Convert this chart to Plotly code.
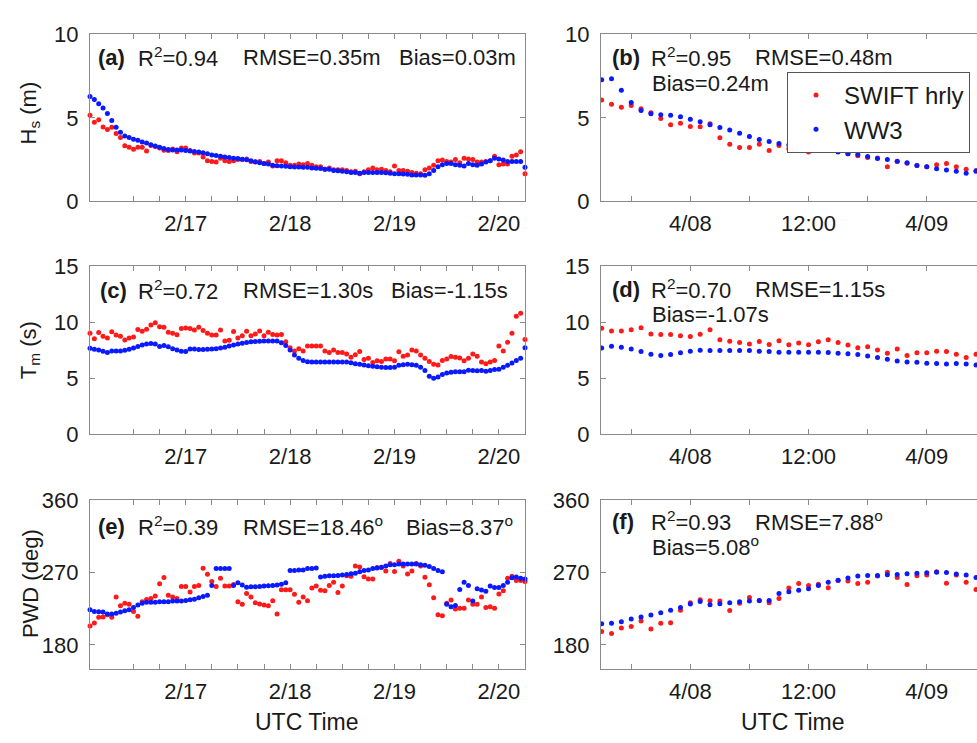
import pandas as pd
import plotly.graph_objects as go

# ---------------- data ----------------
# left column: hourly, 2/16 02:00 -> 2/20 06:00
t_left = pd.date_range("2019-02-16 02:00", periods=101, freq="h")
# right column: hourly, 4/07 15:00 -> 4/09 05:00
t_right = pd.date_range("2019-04-07 15:00", periods=39, freq="h")

hs_swift_left = [5.16, 4.74, 4.88, 4.45, 4.30, 4.43, 4.06, 3.82, 3.33, 3.24,
                 3.12, 3.24, 3.24, 3.01, 3.35, 3.28, 3.20, 3.06, 3.04, 3.14,
                 2.97, 3.20, 3.20, 3.04, 2.89, 2.89, 2.66, 2.43, 2.39, 2.35,
                 2.58, 2.43, 2.39, 2.43, 2.51, 2.51, 2.54, 2.39, 2.35, 2.39,
                 2.27, 2.35, 2.12, 2.43, 2.43, 2.31, 2.16, 2.16, 2.24, 2.20,
                 2.27,
                 2.16, 2.08, 2.08, 1.93, 2.00, 1.89, 1.89, 1.89, 1.85, 1.77,
                 1.81, 1.66, 1.77, 1.89, 2.00, 1.89, 1.93, 1.85, 1.77, 2.12,
                 1.85, 1.85, 1.81, 1.73, 1.69, 1.66, 1.89, 2.00, 2.16, 2.43,
                 2.47, 2.39, 2.35, 2.51, 2.31, 2.58, 2.54, 2.51, 2.35, 2.35,
                 2.39, 2.43, 2.70, 2.20, 2.24, 2.24, 2.70, 2.77, 2.97, 1.66]
hs_ww3_left = [6.28, 6.09, 5.84, 5.59, 5.26, 4.84, 4.43, 4.14, 3.91, 3.82,
               3.72, 3.66, 3.56, 3.49, 3.39, 3.31, 3.24, 3.16, 3.10, 3.08,
               3.08, 3.08, 3.04, 3.01, 2.99, 2.95, 2.91, 2.85, 2.77, 2.74,
               2.70, 2.66, 2.62, 2.58, 2.56, 2.52, 2.49, 2.43, 2.37, 2.31,
               2.27, 2.24, 2.16, 2.14, 2.12, 2.11, 2.08, 2.06, 2.06, 2.04,
               2.04,
               2.00, 1.99, 1.97, 1.93, 1.93, 1.85, 1.83, 1.81, 1.77, 1.73,
               1.73, 1.69, 1.73, 1.73, 1.73, 1.73, 1.73, 1.71, 1.69, 1.66,
               1.66, 1.64, 1.62, 1.58, 1.58, 1.58, 1.56, 1.66, 1.85, 2.08,
               2.20, 2.27, 2.27, 2.20, 2.16, 2.12, 2.27, 2.20, 2.16, 2.24,
               2.35, 2.43, 2.58, 2.54, 2.47, 2.39, 2.39, 2.39, 2.39, 2.04]

tm_swift_left = [9.02, 8.53, 9.08, 8.74, 8.59, 9.14, 8.85, 8.74, 8.42, 8.59,
                 8.68, 9.34, 9.20, 9.37, 9.74, 9.94, 9.60, 9.54, 9.11, 9.02,
                 8.88, 9.43, 9.48, 9.43, 9.31, 9.54, 9.25, 9.02, 8.85, 8.85,
                 9.31, 8.33, 8.39, 9.17, 8.59, 8.79, 9.20, 8.79, 8.94, 9.22,
                 8.79, 9.11, 8.91, 8.85, 8.91, 8.25, 7.73, 7.44, 7.64, 7.44,
                 7.87,
                 7.87, 7.87, 7.87, 7.44, 7.30, 7.53, 7.30, 7.30, 7.16, 6.87,
                 7.10, 7.39, 6.67, 6.78, 6.41, 6.55, 6.49, 6.72, 6.72, 6.55,
                 7.36, 6.96, 7.07, 7.53, 7.44, 7.07, 6.78, 6.49, 6.24, 6.18,
                 6.58, 6.72, 6.93, 6.87, 6.81, 6.55, 6.78, 7.16, 6.96, 6.44,
                 6.29, 6.44, 6.58, 7.87, 7.44, 8.22, 9.02, 10.52, 10.80, 8.45]
tm_ww3_left = [7.67, 7.59, 7.53, 7.41, 7.30, 7.44, 7.44, 7.44, 7.50, 7.59,
               7.70, 7.84, 7.96, 8.05, 8.10, 8.05, 7.84, 7.93, 7.81, 7.64,
               7.53, 7.41, 7.38, 7.61, 7.61, 7.56, 7.56, 7.59, 7.61, 7.64,
               7.70, 7.76, 7.87, 7.96, 8.05, 8.13, 8.19, 8.25, 8.28, 8.30,
               8.33, 8.33, 8.33, 8.33, 8.16, 7.93, 7.53, 7.07, 6.78, 6.58,
               6.47,
               6.44, 6.44, 6.44, 6.44, 6.44, 6.44, 6.44, 6.44, 6.44, 6.38,
               6.29, 6.24, 6.18, 6.12, 6.06, 6.03, 5.98, 5.95, 5.95, 5.98,
               6.15, 6.21, 6.24, 6.21, 6.15, 5.98, 5.69, 5.17, 5.00, 5.11,
               5.34, 5.46, 5.54, 5.57, 5.57, 5.57, 5.72, 5.69, 5.66, 5.69,
               5.63, 5.69, 5.78, 5.80, 5.98, 6.15, 6.35, 6.58, 6.78, 7.73]

pwd_swift_left = [203.4, 207.4, 214.3, 214.7, 217.5, 214.3, 239.7, 228.8, 231.7, 230.5,
                  221.6, 215.5, 233.7, 236.5, 237.7, 240.9, 255.9, 263.9, 241.8, 239.7,
                  237.7, 252.7, 252.7, 245.8, 252.7, 253.9, 275.2, 267.9, 258.7, 252.7,
                  262.8, 253.1, 253.1, 255.1, 233.7, 230.5, 243.8, 239.7, 232.5, 230.9,
                  229.7, 228.8, 234.9, 218.3, 248.6, 248.6, 248.6, 243.0, 232.9, 239.7,
                  234.9,
                  250.6, 253.1, 247.8, 247.4, 253.9, 257.9, 245.0, 253.1, 266.0, 265.2,
                  278.1, 276.9, 264.8, 261.9, 261.9, 276.1, 276.1, 272.0, 281.3, 271.2,
                  284.1, 278.1, 268.0, 272.0, 281.3, 278.1, 264.0, 254.7, 238.5, 217.5,
                  216.3, 231.7, 235.7, 224.8, 225.6, 225.6, 235.7, 230.5, 230.5, 239.7,
                  226.4, 227.6, 225.6, 243.4, 247.4, 262.7, 265.2, 259.9, 259.9, 258.7]
pwd_ww3_left = [223.6, 221.6, 221.2, 220.8, 218.3, 218.3, 219.5, 220.8, 222.4, 223.6,
                226.4, 229.7, 231.7, 232.9, 232.9, 232.9, 233.7, 233.7, 233.7, 234.5,
                234.5, 234.5, 235.3, 236.1, 236.9, 238.5, 240.1, 241.8, 253.9, 274.8,
                274.8, 274.8, 274.8, 253.9, 257.1, 254.6, 251.8, 252.2, 252.2, 252.7,
                253.1, 253.5, 253.9, 254.6, 255.5, 257.1, 272.4, 272.4, 273.2, 273.2,
                274.8,
                274.8, 275.6, 264.4, 265.2, 266.0, 266.0, 266.4, 266.8, 267.6, 268.4,
                269.2, 270.8, 272.4, 273.2, 274.8, 275.6, 276.4, 278.1, 279.7, 279.7,
                280.5, 280.5, 280.5, 280.5, 280.5, 279.7, 278.9, 277.3, 274.8, 272.4,
                270.8, 230.5, 227.3, 228.9, 249.0, 257.9, 253.9, 234.5, 249.8, 248.2,
                246.6, 253.1, 251.4, 251.4, 253.9, 257.9, 263.6, 264.4, 262.7, 261.9]

hs_swift_right = [6.06, 5.81, 5.63, 5.73, 5.54, 5.31, 4.96, 4.58, 4.67, 4.48,
                  4.46, 4.65, 3.81, 3.42, 3.23, 3.23, 3.42, 3.04, 3.35, 3.15,
                  3.19, 2.96, 3.17, 3.10, 3.19, 2.85, 2.73, 2.62, 2.60, 2.08,
                  2.38, 2.28, 2.15, 2.08, 2.19, 2.27, 2.08, 1.92, 1.85]
hs_ww3_right = [7.27, 7.33, 6.65, 5.92, 5.44, 5.25, 5.19, 5.15, 5.06, 4.92,
                4.77, 4.58, 4.42, 4.27, 4.08, 3.88, 3.71, 3.58, 3.46, 3.38,
                3.33, 3.23, 3.13, 3.04, 2.96, 2.85, 2.81, 2.69, 2.56, 2.50,
                2.40, 2.31, 2.15, 2.08, 1.96, 1.88, 1.81, 1.69, 1.81]
tm_swift_right = [9.45, 9.22, 9.22, 9.33, 9.51, 8.95, 8.90, 8.90, 8.78, 8.72,
                  8.92, 9.33, 8.43, 8.31, 8.20, 8.05, 8.28, 8.02, 8.34, 7.99,
                  8.14, 7.99, 8.26, 8.43, 8.20, 7.97, 7.73, 7.82, 7.53, 7.24,
                  7.62, 7.03, 7.27, 7.27, 7.41, 7.38, 7.15, 6.86, 7.15]
tm_ww3_right = [7.70, 7.85, 7.76, 7.62, 7.38, 7.15, 7.03, 7.12, 7.27, 7.41,
                7.50, 7.47, 7.47, 7.47, 7.47, 7.47, 7.41, 7.38, 7.33, 7.33,
                7.33, 7.33, 7.33, 7.30, 7.24, 7.18, 7.12, 6.98, 6.86, 6.69,
                6.54, 6.45, 6.42, 6.34, 6.31, 6.28, 6.31, 6.28, 6.19]
pwd_swift_right = [196.6, 194.1, 201.0, 203.0, 209.9, 199.8, 207.0, 207.5, 223.2, 232.5,
                   236.1, 234.9, 234.5, 222.8, 231.7, 238.9, 234.9, 232.5, 237.7, 250.6,
                   256.3, 253.9, 255.5, 251.0, 259.9, 259.5, 256.3, 257.9, 265.6, 270.4,
                   263.9, 255.1, 266.0, 266.8, 270.8, 256.7, 266.8, 257.9, 249.0]
pwd_ww3_right = [206.2, 207.0, 208.7, 212.3, 214.7, 217.1, 220.0, 223.2, 226.4, 230.9,
                 234.1, 230.0, 231.3, 232.5, 233.7, 234.5, 235.3, 235.3, 243.8, 246.2,
                 247.8, 249.8, 253.9, 257.9, 260.3, 263.1, 265.6, 266.4, 266.4, 267.2,
                 267.6, 268.4, 269.2, 269.6, 270.4, 270.0, 268.0, 266.8, 263.9]

left_labels = ["2019-02-17", "2019-02-18", "2019-02-19", "2019-02-20"]
left_labeltext = ["2/17", "2/18", "2/19", "2/20"]
left_minor = pd.date_range("2019-02-16 12:00", "2019-02-20 06:00", freq="6h")
right_labels = ["2019-04-08 00:00", "2019-04-08 12:00", "2019-04-09 00:00"]
right_labeltext = ["4/08", "12:00", "4/09"]
right_minor = pd.date_range("2019-04-07 18:00", "2019-04-09 06:00", freq="6h")

# ---------------- figure ----------------
W, H = 977, 743
RED, BLUE = "#ff1a1a", "#0a1aff"
AX = "#8a8a8a"
FONT = "Liberation Sans, Arial, sans-serif"
TXT = "#1a1a1a"

def px(x):
    return x / W

def py(y):
    return 1 - y / H

left_dom = [px(90), px(525)]
right_dom = [px(601), 1.0]
row_dom = [[py(196), py(23)], [py(437), py(263)], [py(680), py(505)]]

fig = go.Figure()

panels = [
    (t_left, hs_swift_left, hs_ww3_left, 1, 0, 0),
    (t_right, hs_swift_right, hs_ww3_right, 2, 1, 0),
    (t_left, tm_swift_left, tm_ww3_left, 3, 0, 1),
    (t_right, tm_swift_right, tm_ww3_right, 4, 1, 1),
    (t_left, pwd_swift_left, pwd_ww3_left, 5, 0, 2),
    (t_right, pwd_swift_right, pwd_ww3_right, 6, 1, 2),
]
yranges = [[0, 10], [0, 15], [150, 360]]
yticks = [[0, 5, 10], [0, 5, 10, 15], [180, 270, 360]]

for t, sw, ww, k, col, row in panels:
    xa = "x" if k == 1 else f"x{k}"
    ya = "y" if k == 1 else f"y{k}"
    fig.add_trace(go.Scatter(x=t, y=sw, mode="markers", name="SWIFT hrly",
                             marker=dict(color=RED, size=5), xaxis=xa, yaxis=ya,
                             showlegend=(k == 1), cliponaxis=(col == 1)))
    fig.add_trace(go.Scatter(x=t, y=ww, mode="markers", name="WW3",
                             marker=dict(color=BLUE, size=5), xaxis=xa, yaxis=ya,
                             showlegend=(k == 1), cliponaxis=(col == 1)))
    xkey = "xaxis" if k == 1 else f"xaxis{k}"
    ykey = "yaxis" if k == 1 else f"yaxis{k}"
    if col == 0:
        xr = ["2019-02-16 02:00", "2019-02-20 06:00"]
        tv, tt, mv = left_labels, left_labeltext, left_minor
    else:
        xr = ["2019-04-07 14:56", "2019-04-09 05:06"]
        tv, tt, mv = right_labels, right_labeltext, right_minor
    fig.layout[xkey] = dict(
        domain=left_dom if col == 0 else right_dom, anchor=ya, type="date",
        range=xr, tickmode="array", tickvals=tv, ticktext=tt,
        ticks="inside", ticklen=5, tickcolor=AX,
        minor=dict(tickmode="array", tickvals=list(mv), ticks="inside",
                   ticklen=5, tickcolor=AX, showgrid=False),
        showline=True, linecolor=AX, linewidth=1.3, mirror="ticks",
        showgrid=False, zeroline=False, ticklabelstandoff=2,
        tickfont=dict(family=FONT, size=22, color=TXT))
    fig.layout[ykey] = dict(
        domain=row_dom[row], anchor=xa, range=yranges[row], tickvals=yticks[row],
        ticks="inside", ticklen=5, tickcolor=AX, showline=True, linecolor=AX,
        linewidth=1.3, mirror="ticks" if col == 0 else False, showgrid=False,
        zeroline=False, ticklabelstandoff=6,
        tickfont=dict(family=FONT, size=22, color=TXT))

ann = []
def text(x, y, s, size=22, anchor="left"):
    ann.append(dict(x=px(x), y=py(y), xref="paper", yref="paper", text=s,
                    showarrow=False, xanchor=anchor, yanchor="middle", borderpad=0,
                    font=dict(family=FONT, size=size, color=TXT)))

# left column statistics
text(97, 47, "<b>(a)</b>")
text(137, 47, "R<sup>2</sup>=0.94")
text(242, 47, "RMSE=0.35m")
text(398, 47, "Bias=0.03m")
text(99, 288, "<b>(c)</b>")
text(137, 288, "R<sup>2</sup>=0.72")
text(242, 288, "RMSE=1.30s")
text(390, 288, "Bias=-1.15s")
text(97, 532, "<b>(e)</b>")
text(137, 532, "R<sup>2</sup>=0.39")
text(242, 532, "RMSE=18.46<sup>o</sup>")
text(405, 532, "Bias=8.37<sup>o</sup>")
# right column statistics
text(611, 47, "<b>(b)</b>")
text(650, 47, "R<sup>2</sup>=0.95")
text(754, 47, "RMSE=0.48m")
text(651, 74, "Bias=0.24m")
text(611, 287, "<b>(d)</b>")
text(650, 287, "R<sup>2</sup>=0.70")
text(754, 287, "RMSE=1.15s")
text(651, 313, "Bias=-1.07s")
text(611, 527, "<b>(f)</b>")
text(650, 527, "R<sup>2</sup>=0.93")
text(754, 527, "RMSE=7.88<sup>o</sup>")
text(651, 553, "Bias=5.08<sup>o</sup>")

# axis titles
text(307, 735, "UTC Time", size=23, anchor="center")
text(793, 735, "UTC Time", size=23, anchor="center")
for yy, s in [(105, "H<sub>s</sub> (m)"), (350, "T<sub>m</sub> (s)"), (592, "PWD (deg)")]:
    ann.append(dict(x=px(30), y=py(yy), xref="paper", yref="paper", text=s,
                    showarrow=False, textangle=-90, xanchor="center", yanchor="middle",
                    font=dict(family=FONT, size=22, color=TXT)))

fig.update_layout(
    width=W, height=H, margin=dict(l=0, r=0, t=0, b=0),
    paper_bgcolor="white", plot_bgcolor="white",
    annotations=ann,
    legend=dict(x=px(787), y=py(62), xanchor="left", yanchor="top",
                bgcolor="white", bordercolor="#555555", borderwidth=1,
                font=dict(family=FONT, size=24, color=TXT),
                itemwidth=46, tracegroupgap=0),
)

fig.write_html("out.html")
